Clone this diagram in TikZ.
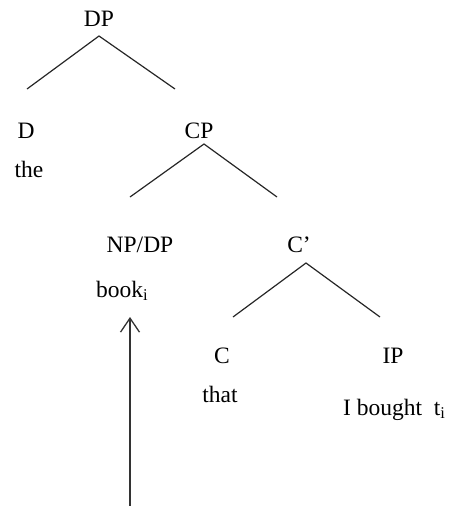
\documentclass[tikz,border=0pt]{standalone}
\usepackage{fontspec}
\setmainfont{Liberation Serif}
\usetikzlibrary{arrows.meta}
\begin{document}
\begin{tikzpicture}[x=1pt,y=-1pt,
  lbl/.style={inner sep=0pt,anchor=base,font=\fontsize{23.5}{28}\selectfont},
  branch/.style={line width=1.2pt,draw=black!85},
  movearrow/.style={line width=1.3pt,draw=black!80,-{Straight Barb[length=14pt,width=19pt,line width=1.3pt]}}]
\useasboundingbox (0,0) rectangle (454,506);
% labels
\node[lbl] (dp)  at (99,27)   {DP};
\node[lbl] (d)   at (26,138)  {D};
\node[lbl] (the) at (29,177)  {the};
\node[lbl] (cp)  at (199,138) {CP};
\node[lbl] (npdp) at (140,252) {NP/DP};
\node[lbl,anchor=base west] (book) at (96,297) {book\textsubscript{i}};
\node[lbl] (cbar) at (299,252) {C’};
\node[lbl] (c)   at (222,363) {C};
\node[lbl] (that) at (220,402) {that};
\node[lbl] (ip)  at (393,363) {IP};
\node[lbl,anchor=base west] (ibought) at (343,415) {I bought\ \ t\textsubscript{i}};
% branch points
\coordinate (dptop) at (99,36);
\coordinate (dpl) at (27,89);
\coordinate (dpr) at (175,89);
\coordinate (cptop) at (204,144);
\coordinate (cpl) at (130,197);
\coordinate (cpr) at (277,197);
\coordinate (cbtop) at (306,263);
\coordinate (cbl) at (233,317);
\coordinate (cbr) at (380,317);
\coordinate (tracefoot) at (130,506);
\coordinate (tracehead) at (130,317);
% branches
\draw[branch] (dpl) -- (dptop) -- (dpr);
\draw[branch] (cpl) -- (cptop) -- (cpr);
\draw[branch] (cbl) -- (cbtop) -- (cbr);
% movement arrow
\draw[movearrow] (tracefoot) -- (tracehead);
\end{tikzpicture}
\end{document}
